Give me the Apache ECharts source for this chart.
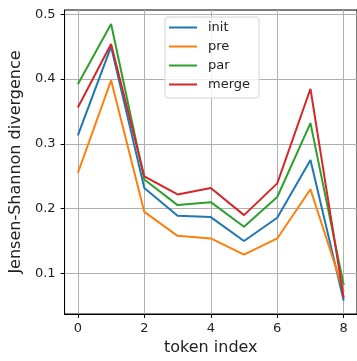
<!DOCTYPE html>
<html>
<head>
<meta charset="utf-8">
<script src="https://cdn.jsdelivr.net/npm/echarts@6/dist/echarts.min.js"></script>
<style>html,body{margin:0;padding:0;background:#fff;}#c{width:357px;height:361px;}</style>
</head>
<body>
<div id="c"></div>
<script>
const tokenIndex = [0, 1, 2, 3, 4, 5, 6, 7, 8];
const seriesNames = ['init', 'pre', 'par', 'merge'];
const initVals  = [0.313, 0.450, 0.232, 0.189, 0.187, 0.150, 0.186, 0.275, 0.058];
const preVals   = [0.255, 0.398, 0.195, 0.158, 0.154, 0.129, 0.154, 0.230, 0.072];
const parVals   = [0.392, 0.485, 0.245, 0.2055, 0.210, 0.172, 0.218, 0.332, 0.082];
const mergeVals = [0.356, 0.454, 0.250, 0.222, 0.232, 0.190, 0.239, 0.385, 0.062];
const xTicks = [0, 2, 4, 6, 8];
const yTicks = [0.1, 0.2, 0.3, 0.4, 0.5];
const colors = ['#1f77b4', '#ff7f0e', '#2ca02c', '#d62728'];

const allVals = [initVals, preVals, parVals, mergeVals];
const font = 'DejaVu Sans';
const chart = echarts.init(document.getElementById('c'), null, {renderer: 'canvas'});
chart.setOption({
  animation: false,
  color: colors,
  textStyle: {fontFamily: font},
  grid: {left: 62, top: 10, width: 296, height: 305, show: true, borderColor: '#000', borderWidth: 1, backgroundColor: 'transparent'},
  legend: {
    orient: 'vertical', left: 165, top: 17,
    data: seriesNames,
    itemWidth: 28, itemHeight: 14, itemGap: 6,
    padding: [4, 9, 7, 3],
    borderColor: '#d4d4d4', borderWidth: 1, borderRadius: 3,
    backgroundColor: 'rgba(255,255,255,0.8)',
    itemStyle: {opacity: 0},
    lineStyle: {width: 2},
    textStyle: {fontFamily: font, fontSize: 13, color: '#222', padding: [0, 0, 0, 6]}
  },
  xAxis: {
    type: 'value', min: -0.4, max: 8.4,
    name: 'token index', nameLocation: 'middle', nameGap: 26,
    nameTextStyle: {fontFamily: font, fontSize: 16, color: '#222'},
    axisLine: {show: true, onZero: false, lineStyle: {color: '#000', width: 1}},
    axisTick: {show: true, customValues: xTicks, length: 4, lineStyle: {color: '#000'}},
    axisLabel: {customValues: xTicks, margin: 8, fontFamily: font, fontSize: 13, color: '#222'},
    splitLine: {show: true, customValues: xTicks, lineStyle: {color: '#b0b0b0', width: 1}}
  },
  yAxis: {
    type: 'value', min: 0.0374, max: 0.5066,
    name: 'Jensen-Shannon divergence', nameLocation: 'middle', nameGap: 34,
    nameTextStyle: {fontFamily: font, fontSize: 16, color: '#222'},
    axisLine: {show: true, onZero: false, lineStyle: {color: '#000', width: 1}},
    axisTick: {show: true, customValues: yTicks, length: 4, lineStyle: {color: '#000'}},
    axisLabel: {customValues: yTicks, margin: 9, fontFamily: font, fontSize: 13, color: '#222',
      formatter: v => v.toFixed(1)},
    splitLine: {show: true, customValues: yTicks, lineStyle: {color: '#b0b0b0', width: 1}}
  },
  series: seriesNames.map((n, i) => ({
    name: n, type: 'line', symbol: 'none',
    data: tokenIndex.map((x, j) => [x, allVals[i][j]]),
    lineStyle: {width: 2, color: colors[i]}, itemStyle: {color: colors[i]}
  }))
});
</script>
</body>
</html>
